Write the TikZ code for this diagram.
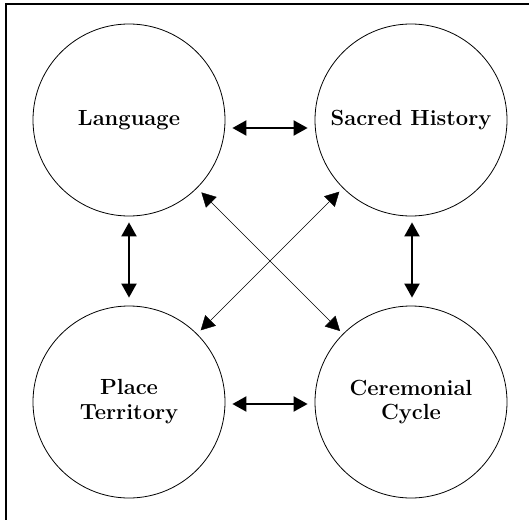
\documentclass[tikz,border=0pt]{standalone}
\usepackage{tikz}
\usetikzlibrary{arrows.meta, positioning, calc}

\begin{document}
\begin{tikzpicture}[x=1bp, y=-1bp, >={Triangle[length=14bp, width=15bp]}]
\useasboundingbox (0,0) rectangle (529,520);
% Frame
\draw[line width=2bp] (6,520) -- (6,4) -- (529,4);

% Circles
\tikzset{topic/.style={circle, draw, thick, minimum size=192bp, inner sep=0pt, align=center, font=\fontsize{22}{25}\selectfont\bfseries}}
\node[topic] (lang) at (129,120) {Language};
\node[topic] (sacred) at (411,120) {Sacred History};
\node[topic] (place) at (129,402) {Place\\Territory};
\node[topic] (cycle) at (411,402) {Ceremonial\\Cycle};

% Straight links
\draw[<->, line width=2bp] ([xshift=7bp, yshift=-8bp]lang.east) -- ([xshift=-7bp, yshift=-8bp]sacred.west);
\draw[<->, line width=2bp] ([xshift=7bp, yshift=-2bp]place.east) -- ([xshift=-7bp, yshift=-2bp]cycle.west);
\draw[<->, line width=2bp] ([yshift=-6bp]lang.south) -- ([yshift=8bp]place.north);
\draw[<->, line width=2bp] ([xshift=1bp, yshift=-6bp]sacred.south) -- ([xshift=1bp, yshift=8bp]cycle.north);

% Cross links
\draw[<->, thin, shorten <=6bp, shorten >=4bp] (lang) -- (cycle);
\draw[<->, thin, shorten <=5bp, shorten >=5bp] (sacred) -- (place);
\end{tikzpicture}
\end{document}
